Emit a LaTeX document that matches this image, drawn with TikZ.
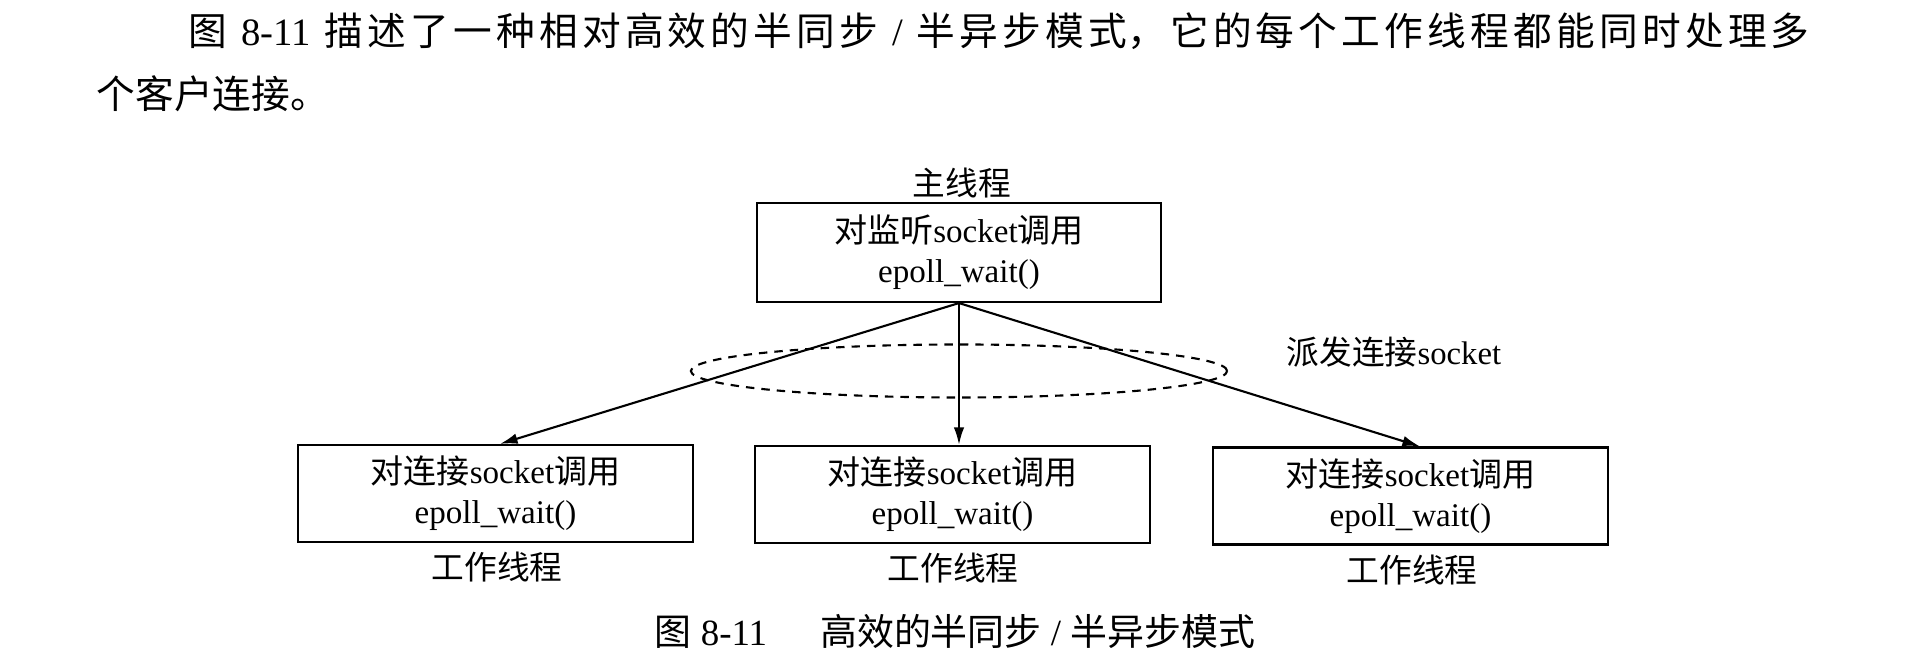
\documentclass[tikz,border=0pt]{standalone}
\usepackage{fontspec}
\setmainfont{Liberation Serif}
\newfontfamily\cjk{Noto Sans CJK SC}
\usetikzlibrary{arrows.meta,shapes.geometric,calc}
\newcommand{\zhtxt}[1]{{\cjk #1}}
\newcommand{\fs}{\hfil}
\begin{document}
\begin{tikzpicture}[x=0.01cm,y=-0.01cm,
  box/.style={draw, line width=0.6pt, inner sep=0pt, minimum width=3.95cm, minimum height=0.97cm, align=center, font=\fontsize{9.4pt}{11.4pt}\selectfont},
  lbl/.style={inner sep=0pt, font=\fontsize{9.3pt}{11pt}\selectfont},
  arr/.style={-{Latex[length=5pt,width=3pt]}, line width=0.6pt},
  body/.style={inner sep=0pt, anchor=west, font=\fontsize{11pt}{13pt}\selectfont},
  grpstyle/.style={draw, dashed, dash pattern=on 2.4pt off 2pt, line width=0.6pt, ellipse, inner sep=0pt, minimum width=5.36cm, minimum height=0.53cm}]
\useasboundingbox (0,0) rectangle (1920,662);

% body text
\node[body] (p1) at (188,31) {\hbox to 16.2cm{\zhtxt{图}\fs\ 8-11\ \fs\zhtxt{描\fs 述\fs 了\fs 一\fs 种\fs 相\fs 对\fs 高\fs 效\fs 的\fs 半\fs 同\fs 步}\fs\ /\ \fs\zhtxt{半\fs 异\fs 步\fs 模\fs 式，\fs 它\fs 的\fs 每\fs 个\fs 工\fs 作\fs 线\fs 程\fs 都\fs 能\fs 同\fs 时\fs 处\fs 理\fs 多}}};
\node[body] (p2) at (96,94) {\zhtxt{个客户连接。}};

% main thread
\node[lbl] (mainlbl) at (962,183) {\zhtxt{主线程}};
\node[box, minimum width=4.04cm, minimum height=0.99cm] (main) at (959,252.5) {\zhtxt{对监听}socket\zhtxt{调用}\\epoll\_wait()};

% dispatch group
\node[grpstyle] (grp) at (959,371) {};
\node[lbl] (disp) at (1394,352) {\zhtxt{派发连接}socket};

% workers
\node[box] (w1) at (495.5,493.5) {\zhtxt{对连接}socket\zhtxt{调用}\\epoll\_wait()};
\node[box] (w2) at (952.5,494.5) {\zhtxt{对连接}socket\zhtxt{调用}\\epoll\_wait()};
\node[box] (w3) at (1410.5,496) {\zhtxt{对连接}socket\zhtxt{调用}\\epoll\_wait()};
\node[lbl] (l1) at (497,567) {\zhtxt{工作线程}};
\node[lbl] (l2) at (953,568) {\zhtxt{工作线程}};
\node[lbl] (l3) at (1412,570) {\zhtxt{工作线程}};

% connectors
\draw[arr] (main.south) -- ($(w1.north)+(4.5,0)$);
\draw[arr] (main.south) -- (main.south |- w2.north);
\draw[arr] (main.south) -- ($(w3.north)+(9.5,0)$);

% caption
\node[inner sep=0pt, anchor=west, font=\fontsize{10.5pt}{12pt}\selectfont] (cap) at (654,631) {\hbox to 6.0cm{\zhtxt{图} 8-11\hfill\zhtxt{高效的半同步} / \zhtxt{半异步模式}}};
\end{tikzpicture}
\end{document}
